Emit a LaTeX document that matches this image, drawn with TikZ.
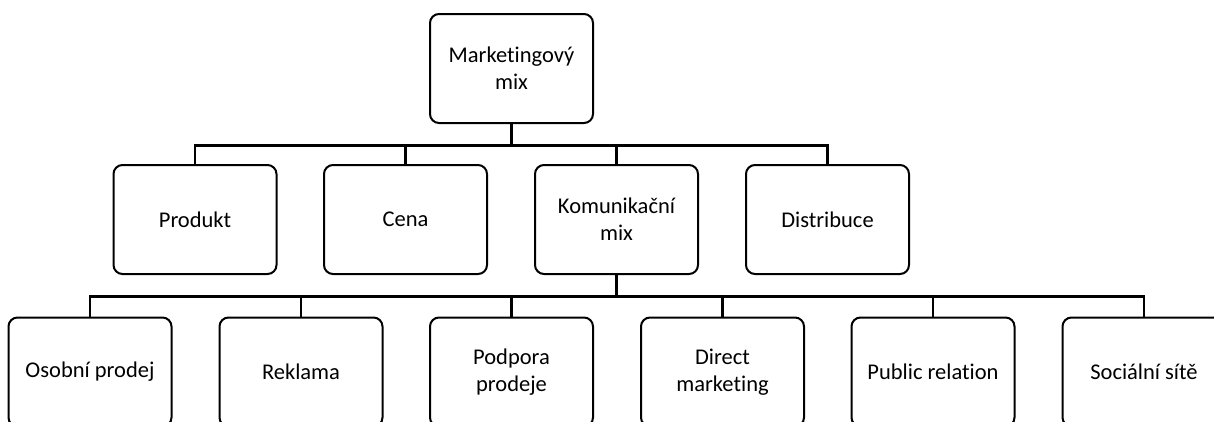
\documentclass[tikz,border=0pt]{standalone}
\usepackage{fontspec}
\setmainfont{Carlito}[Ligatures={NoCommon}]
\usetikzlibrary{positioning}

\begin{document}
\begin{tikzpicture}[x=1pt, y=-1pt, line width=2pt,
    box/.style={draw, rounded corners=9pt, minimum width=163pt, minimum height=109pt, align=center, inner sep=2pt, font=\fontsize{22.5}{27}\selectfont},
    link/.style={line width=2.4pt}]
    \useasboundingbox (0,0) rectangle (1214,421);
    \clip (0,0) rectangle (1214,421);

    \node[box] (mm) at (511.5,68.5) {Marketingový\\mix};

    \node[box] (produkt) at (195,219.5) {Produkt};
    \node[box] (cena) at (405.5,219.5) {Cena};
    \node[box] (kmix) at (616.5,219.5) {Komunikační\\mix};
    \node[box] (distr) at (827.5,219.5) {Distribuce};

    \node[box] (osp) at (90,372) {Osobní prodej};
    \node[box] (rekl) at (301,372) {Reklama};
    \node[box] (podp) at (511.5,372) {Podpora\\prodeje};
    \node[box] (dirm) at (722.5,372) {Direct\\marketing};
    \node[box] (pr) at (933,372) {Public relation};
    \node[box] (soc) at (1144,372) {Sociální sítě};

    \foreach \c in {produkt, cena, kmix, distr}
        \draw[link] (mm.south) -- ++(0,21.5) -| (\c.north);

    \foreach \c in {osp, rekl, podp, dirm, pr, soc}
        \draw[link] (kmix.south) -- ++(0,21.5) -| (\c.north);
\end{tikzpicture}
\end{document}
